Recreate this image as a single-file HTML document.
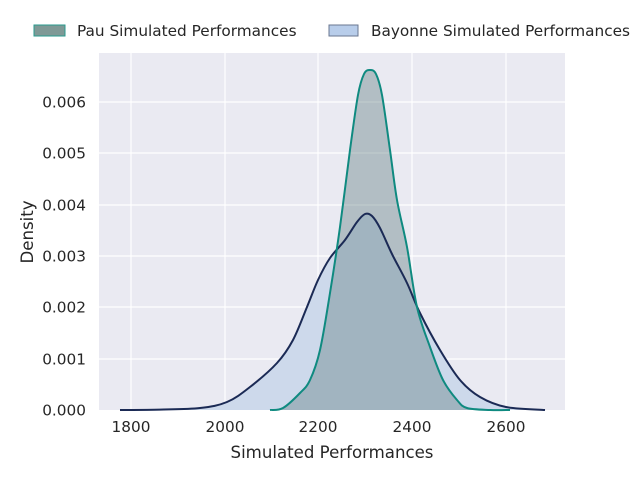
<!DOCTYPE html>
<html><head><meta charset="utf-8"><style>body{margin:0;background:#fff}svg{display:block;font-family:"DejaVu Sans","Liberation Sans",sans-serif}</style></head><body>
<svg width="640" height="480" viewBox="0 0 640 480" xmlns="http://www.w3.org/2000/svg">
<rect x="99" y="53" width="466" height="357" fill="#eaeaf2"/>
<g stroke="#fff" stroke-width="1.2">
<line x1="131" y1="53" x2="131" y2="410"/><line x1="225" y1="53" x2="225" y2="410"/><line x1="318" y1="53" x2="318" y2="410"/><line x1="412" y1="53" x2="412" y2="410"/><line x1="506" y1="53" x2="506" y2="410"/>
<line x1="99" y1="359" x2="565" y2="359"/><line x1="99" y1="307" x2="565" y2="307"/><line x1="99" y1="256" x2="565" y2="256"/><line x1="99" y1="205" x2="565" y2="205"/><line x1="99" y1="153" x2="565" y2="153"/><line x1="99" y1="102" x2="565" y2="102"/>
</g>
<path id="bf" fill="#cdd9eb" stroke="none"/>
<path id="pf" fill="rgba(96,124,127,0.4)" stroke="none"/>
<path id="bl" fill="none" stroke="#1b2a55" stroke-width="2"/>
<path id="pl" fill="none" stroke="#0f8a80" stroke-width="2"/>
<g font-size="15.3" fill="#262626" text-anchor="middle">
<text x="131" y="432">1800</text><text x="225" y="432">2000</text><text x="318" y="432">2200</text><text x="412" y="432">2400</text><text x="506" y="432">2600</text>
</g>
<g font-size="15.3" fill="#262626" text-anchor="end">
<text x="86" y="415.5">0.000</text><text x="86" y="364.5">0.001</text><text x="86" y="312.5">0.002</text><text x="86" y="261.5">0.003</text><text x="86" y="210.5">0.004</text><text x="86" y="158.5">0.005</text><text x="86" y="107.5">0.006</text>
</g>
<text x="332" y="458" font-size="16.6" fill="#262626" text-anchor="middle">Simulated Performances</text>
<text transform="translate(33,232) rotate(-90)" font-size="16.6" fill="#262626" text-anchor="middle">Density</text>
<rect x="34" y="25" width="31" height="11" fill="#7f9996" stroke="#2a9a8e"/>
<text x="77" y="36" font-size="15.3" fill="#262626">Pau Simulated Performances</text>
<rect x="329" y="25" width="29" height="11" fill="#b8cdea" stroke="#6a7790"/>
<text x="371" y="36" font-size="15.3" fill="#262626">Bayonne Simulated Performances</text>
</svg>
<script>
function cr(p){var d="M"+p[0][0]+","+p[0][1];for(var i=0;i<p.length-1;i++){var a=p[i-1]||p[i],b=p[i],c=p[i+1],e=p[i+2]||c;d+=" C"+(b[0]+(c[0]-a[0])/6)+","+(b[1]+(c[1]-a[1])/6)+" "+(c[0]-(e[0]-b[0])/6)+","+(c[1]-(e[1]-b[1])/6)+" "+c[0]+","+c[1];}return d;}
var B=[[120,410],[160,409.6],[200,408],[227,402],[250,387],[277,363],[293,340],[307,307],[318,280],[330,258],[345,240],[357,222],[365,214],[372,216],[380,228],[392,254],[407,283],[420,313],[440,350],[460,380],[480,397],[506,407],[545,410]];
var P=[[270,410],[283,408],[300,393],[310,380],[320,350],[330,293],[340,227],[350,150],[358,95],[364,74],[370,70],[376,74],[382,95],[390,150],[397,200],[407,247],[417,307],[430,347],[443,380],[457,400],[467,408],[490,410],[510,410]];
var b=cr(B),p=cr(P);
document.getElementById("bl").setAttribute("d",b);document.getElementById("bf").setAttribute("d",b+" Z");
document.getElementById("pl").setAttribute("d",p);document.getElementById("pf").setAttribute("d",p+" Z");
</script>
</body></html>
